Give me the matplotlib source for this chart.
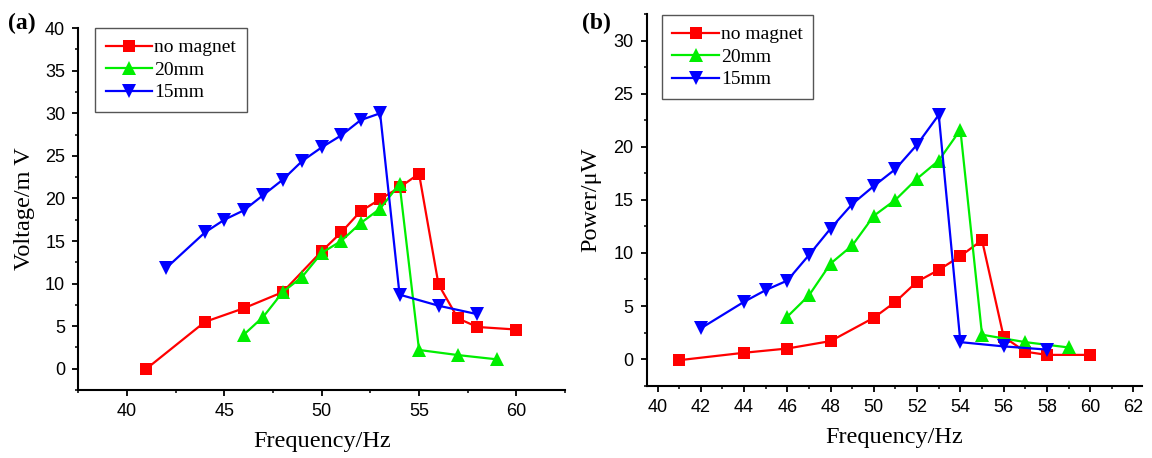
import matplotlib
matplotlib.use("Agg")
import matplotlib.pyplot as plt
from matplotlib.ticker import MultipleLocator

# voltage vs frequency (a)
freq_none = [41, 44, 46, 48, 50, 51, 52, 53, 54, 55, 56, 57, 58, 60]
volt_none = [0.0, 5.5, 7.1, 9.0, 13.8, 16.0, 18.5, 19.9, 21.3, 22.9, 9.9, 5.9, 4.9, 4.6]
freq_20 = [46, 47, 48, 49, 50, 51, 52, 53, 54, 55, 57, 59]
volt_20 = [4.0, 6.1, 9.0, 10.8, 13.6, 15.0, 17.1, 18.8, 21.7, 2.2, 1.6, 1.1]
freq_15 = [42, 44, 45, 46, 47, 48, 49, 50, 51, 52, 53, 54, 56, 58]
volt_15 = [11.8, 16.0, 17.5, 18.6, 20.4, 22.2, 24.4, 26.0, 27.4, 29.2, 30.0, 8.7, 7.4, 6.4]

# power vs frequency (b)
pow_none = [-0.1, 0.6, 1.0, 1.7, 3.9, 5.4, 7.3, 8.4, 9.7, 11.2, 2.1, 0.7, 0.4, 0.4]
pow_20 = [4.0, 6.0, 9.0, 10.7, 13.5, 15.0, 17.0, 18.7, 21.6, 2.3, 1.6, 1.1]
pow_15 = [2.9, 5.4, 6.5, 7.4, 9.8, 12.3, 14.6, 16.3, 17.9, 20.2, 23.0, 1.6, 1.2, 0.9]

labels = ["no magnet", "20mm", "15mm"]
colors = ["#ff0000", "#00ee00", "#0000ff"]
markers = ["s", "^", "v"]

serif = "Liberation Serif"
sans = "Liberation Sans"

fig = plt.figure(figsize=(11.52, 4.58), dpi=100)
ax1 = fig.add_axes([0.068, 0.1485, 0.4225, 0.790])
ax2 = fig.add_axes([0.5614, 0.1579, 0.430, 0.8116])


def draw(ax, xs, ys, anchor):
    for x, y, lab, c, m in zip(xs, ys, labels, colors, markers):
        ms = 8 if m == "s" else 9.5
        ax.plot(x, y, color=c, marker=m, markersize=ms, linewidth=1.6,
                markeredgewidth=0, label=lab)
    for s in ["top", "right"]:
        ax.spines[s].set_visible(False)
    for s in ["left", "bottom"]:
        ax.spines[s].set_linewidth(1.5)
    ax.tick_params(which="major", direction="out", length=4.5, width=1.3,
                   labelsize=13, pad=5)
    ax.tick_params(which="minor", direction="out", length=2.5, width=1.1)
    ax.set_xlabel("Frequency/Hz", fontfamily=serif, fontsize=17.5, labelpad=8)
    leg = ax.legend(loc="upper left", bbox_to_anchor=anchor,
                    prop={"family": serif, "size": 14},
                    fancybox=False, edgecolor="#555555", framealpha=1,
                    handlelength=2.4, handletextpad=0.1, borderpad=0.55,
                    labelspacing=0.25, borderaxespad=0)
    leg.get_frame().set_linewidth(1.0)
    return leg


draw(ax1, [freq_none, freq_20, freq_15], [volt_none, volt_20, volt_15], (0.034, 1.0))
ax1.set_xlim(37.5, 62.5)
ax1.set_ylim(-2.5, 40)
ax1.xaxis.set_minor_locator(MultipleLocator(2.5))
ax1.yaxis.set_minor_locator(MultipleLocator(2.5))
ax1.set_xticks([40, 45, 50, 55, 60])
ax1.set_yticks([0, 5, 10, 15, 20, 25, 30, 35, 40])
for t in ax1.get_xticklabels() + ax1.get_yticklabels():
    t.set_fontfamily(sans)
ax1.set_ylabel("Voltage/m V", fontfamily=serif, fontsize=17.5, labelpad=7)

draw(ax2, [freq_none, freq_20, freq_15], [pow_none, pow_20, pow_15], (0.030, 0.997))
ax2.set_xlim(39.5, 62.4)
ax2.set_ylim(-2.5, 32.5)
ax2.xaxis.set_minor_locator(MultipleLocator(1))
ax2.yaxis.set_minor_locator(MultipleLocator(2.5))
ax2.set_xticks(list(range(40, 63, 2)))
ax2.set_yticks([0, 5, 10, 15, 20, 25, 30])
for t in ax2.get_xticklabels() + ax2.get_yticklabels():
    t.set_fontfamily(sans)
ax2.set_ylabel("Power/\u03bcW", fontfamily=serif, fontsize=17.5, labelpad=9)

fig.text(0.007, 0.937, "(a)", fontfamily=serif, fontweight="bold", fontsize=17)
fig.text(0.505, 0.937, "(b)", fontfamily=serif, fontweight="bold", fontsize=17)

fig.savefig("out.png", dpi=100)
